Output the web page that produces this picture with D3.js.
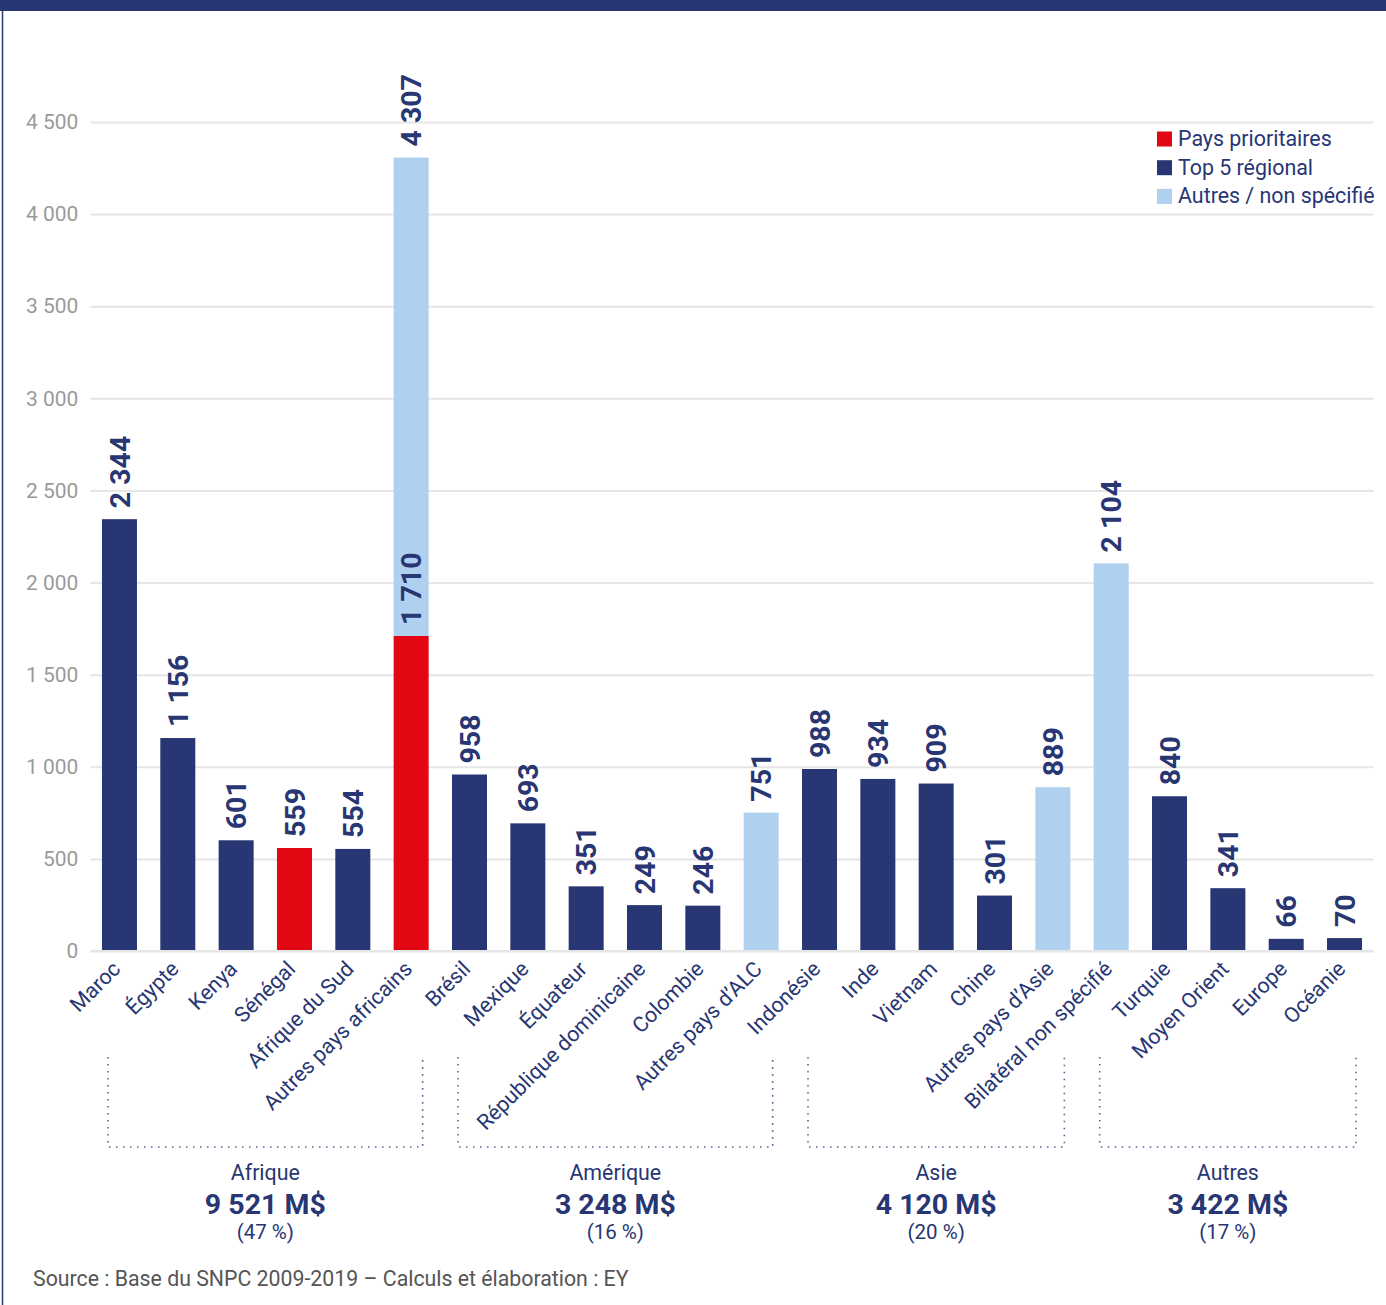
<!DOCTYPE html>
<html>
<head>
<meta charset="utf-8">
<script src="https://cdn.jsdelivr.net/npm/d3@7"></script>
<style>
  body { margin: 0; background: #fff; }
  svg { display: block; font-family: Roboto, "Noto Sans", sans-serif; }
</style>
</head>
<body>
<div id="container"></div>
<script>
const categories = ["Maroc", "Égypte", "Kenya", "Sénégal", "Afrique du Sud", "Autres pays africains",
                    "Brésil", "Mexique", "Équateur", "République dominicaine", "Colombie", "Autres pays d’ALC",
                    "Indonésie", "Inde", "Vietnam", "Chine", "Autres pays d’Asie",
                    "Bilatéral non spécifié", "Turquie", "Moyen Orient", "Europe", "Océanie"];

// segments per bar (M$)
const prioritaires = [0, 0, 0, 559, 0, 1710, 0, 0, 0, 0, 0, 0, 0, 0, 0, 0, 0, 0, 0, 0, 0, 0];
const top5 =         [2344, 1156, 601, 0, 554, 0, 958, 693, 351, 249, 246, 0, 988, 934, 909, 301, 0, 0, 840, 341, 66, 70];
const autres =       [0, 0, 0, 0, 0, 2597, 0, 0, 0, 0, 0, 751, 0, 0, 0, 0, 889, 2104, 0, 0, 0, 0];

const seriesNames = ["Pays prioritaires", "Top 5 régional", "Autres / non spécifié"];
const yTicks = [0, 500, 1000, 1500, 2000, 2500, 3000, 3500, 4000, 4500];

const groupNames = ["Afrique", "Amérique", "Asie", "Autres"];
const groupTotals = ["9 521 M$", "3 248 M$", "4 120 M$", "3 422 M$"];
const groupShares = ["(47 %)", "(16 %)", "(20 %)", "(17 %)"];
const groupFirst = ["Maroc", "Brésil", "Indonésie", "Bilatéral non spécifié"];
const groupLast = ["Autres pays africains", "Autres pays d’ALC", "Autres pays d’Asie", "Océanie"];

const WIDTH = 1386, HEIGHT = 1305;
const NAVY = "#283673", RED = "#e30613", LIGHT = "#afd0ee";
const colors = [RED, NAVY, LIGHT];

const svg = d3.select("#container").append("svg")
    .attr("width", WIDTH).attr("height", HEIGHT);

// frame
svg.append("rect").attr("x", 0).attr("y", 0).attr("width", WIDTH).attr("height", 11).attr("fill", NAVY);
svg.append("line").attr("x1", 2.5).attr("x2", 2.5).attr("y1", 0).attr("y2", HEIGHT)
    .attr("stroke", NAVY).attr("stroke-width", 1.5);

const fmt = d3.formatLocale({ decimal: ",", thousands: "\u00a0", grouping: [3], currency: ["", ""] }).format(",d");

const xScale = d3.scaleBand().domain(categories).range([90.3, 1373.7])
    .paddingInner(0.4).paddingOuter(0.2);
const yScale = d3.scaleLinear().domain([0, 4500]).range([951, 122]);

// grid + y labels
const yAxis = d3.axisLeft(yScale).tickValues(yTicks).tickFormat(fmt)
    .tickSize(-(1373.7 - 90.3)).tickPadding(12);
const gy = svg.append("g").attr("transform", "translate(90.3,0)").call(yAxis);
gy.select(".domain").remove();
gy.selectAll("line").attr("stroke", "#e6e6e6").attr("stroke-width", 2);
gy.selectAll("text").attr("fill", "#9a9a9a").attr("font-size", 21)
    .attr("font-family", "Roboto, sans-serif");

// stacked bars
const table = categories.map((c, i) => ({ cat: c, p: prioritaires[i], t: top5[i], a: autres[i] }));
const stacked = d3.stack().keys(["p", "t", "a"])(table);

stacked.forEach((layer, k) => {
    svg.append("g").selectAll("rect")
        .data(layer.filter(d => d[1] > d[0]))
        .join("rect")
        .attr("x", d => xScale(d.data.cat))
        .attr("width", xScale.bandwidth())
        .attr("y", d => yScale(d[1]))
        .attr("height", d => yScale(d[0]) - yScale(d[1]))
        .attr("fill", colors[k]);
});

// value labels at top of each segment
const segs = stacked.flatMap(layer => layer.filter(d => d[1] > d[0]));
svg.append("g").selectAll("text")
    .data(segs)
    .join("text")
    .attr("transform", d => `translate(${xScale(d.data.cat) + xScale.bandwidth() / 2}, ${yScale(d[1]) - 11}) rotate(-90)`)
    .attr("dy", "0.36em")
    .attr("fill", NAVY)
    .attr("font-size", 28.5)
    .attr("font-weight", 700)
    .text(d => fmt(d[1]));

// x labels
svg.append("g").selectAll("text")
    .data(categories)
    .join("text")
    .attr("transform", d => `translate(${xScale(d) + xScale.bandwidth() / 2 - 3}, 965) rotate(-45)`)
    .attr("text-anchor", "end")
    .attr("dy", "0.35em")
    .attr("fill", NAVY)
    .attr("font-size", 21.4)
    .text(d => d);

// baseline
svg.append("line").attr("x1", 90.3).attr("x2", 1373.7)
    .attr("y1", yScale(0)).attr("y2", yScale(0))
    .attr("stroke", "#e6e6e6").attr("stroke-width", 2);

// legend
const legend = svg.append("g").attr("transform", "translate(1157,129)");
seriesNames.forEach((name, i) => {
    const row = legend.append("g").attr("transform", `translate(0, ${i * 28.7})`);
    row.append("rect").attr("width", 15).attr("height", 15).attr("y", 2.5).attr("fill", colors[i]);
    row.append("text").attr("x", 21).attr("y", 17).attr("fill", NAVY)
        .attr("font-size", 21.4).text(name);
});

// region brackets
groupNames.forEach((g, i) => {
    const x0 = xScale(groupFirst[i]) + 6;
    const x1 = xScale(groupLast[i]) + xScale.bandwidth() - 6;
    const cx = (x0 + x1) / 2;
    svg.append("path")
        .attr("d", `M${x0},1057 V1147 H${x1} V1057`)
        .attr("fill", "none")
        .attr("stroke", "#5c6699")
        .attr("stroke-width", 1.6)
        .attr("stroke-dasharray", "1.6,5.4");
    svg.append("text").attr("x", cx).attr("y", 1180).attr("text-anchor", "middle")
        .attr("fill", NAVY).attr("font-size", 21.4).text(g);
    svg.append("text").attr("x", cx).attr("y", 1214).attr("text-anchor", "middle")
        .attr("fill", NAVY).attr("font-size", 28.5).attr("font-weight", 700).text(groupTotals[i]);
    svg.append("text").attr("x", cx).attr("y", 1239).attr("text-anchor", "middle")
        .attr("fill", NAVY).attr("font-size", 20.5).text(groupShares[i]);
});

svg.append("text").attr("x", 33).attr("y", 1286)
    .attr("fill", "#555").attr("font-size", 21.3)
    .text("Source : Base du SNPC 2009-2019 – Calculs et élaboration : EY");
</script>
</body>
</html>
